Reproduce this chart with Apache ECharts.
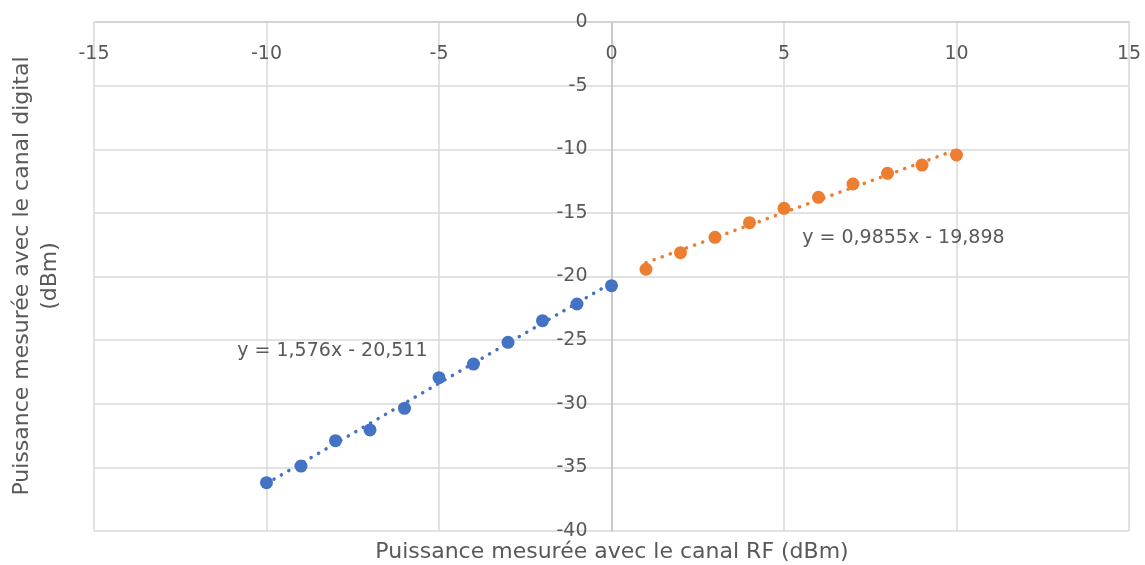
<!DOCTYPE html>
<html><head><meta charset="utf-8">
<script src="https://cdn.jsdelivr.net/npm/echarts@6/dist/echarts.min.js"></script>
<style>html,body{margin:0;padding:0;background:#fff}#c{width:1145px;height:565px}</style>
</head><body><div id="c"></div>
<script>
// ---- data ----
const blueX = [-10, -9, -8, -7, -6, -5, -4, -3, -2, -1, 0];
const blueY = [-36.2, -34.9, -32.9, -32.06, -30.36, -27.95, -26.88, -25.17, -23.47, -22.16, -20.72];
const orangeX = [1, 2, 3, 4, 5, 6, 7, 8, 9, 10];
const orangeY = [-19.43, -18.13, -16.92, -15.77, -14.64, -13.78, -12.73, -11.89, -11.24, -10.45];
const trendSlopes = [1.576, 0.9855];
const trendIntercepts = [-20.511, -19.898];
const trendLabels = ['y = 1,576x - 20,511', 'y = 0,9855x - 19,898'];
const xTitle = 'Puissance mesurée avec le canal RF (dBm)';
const yTitle = ['Puissance mesurée avec le canal digital', '(dBm)'];
// ---- layout ----
const trendLabelAt = [[-8.09, -25.85], [8.46, -16.97]];
const FONT = 'DejaVu Sans';
const TXT = '#595959';
const GRID = {left: 94, right: 16, top: 22, bottom: 34};
const W = 1145;

function zip(xs, ys) { return xs.map((x, i) => [x, ys[i]]); }
function trendEnds(xs, k) {
  const a = Math.min(...xs), b = Math.max(...xs);
  return [[a, trendSlopes[k] * a + trendIntercepts[k]], [b, trendSlopes[k] * b + trendIntercepts[k]]];
}
const colors = ['#4472C4', '#ED7D31'];
const chart = echarts.init(document.getElementById('c'), null, {renderer: 'canvas'});
const trendStyle = c => ({color: c, width: 3.5, type: [0.1, 8.5], cap: 'round'});
const plotW = W - GRID.left - GRID.right;
chart.setOption({
  animation: false,
  grid: GRID,
  xAxis: {
    type: 'value', min: -15, max: 15, interval: 5, position: 'top',
    axisLine: {onZero: false, lineStyle: {color: '#d0d0d0', width: 1.5}},
    axisTick: {show: false},
    axisLabel: {color: TXT, fontFamily: FONT, fontSize: 19, margin: 23, inside: true},
    splitLine: {lineStyle: {color: '#d9d9d9', width: 1.5}}
  },
  yAxis: {
    type: 'value', min: -40, max: 0, interval: 5, position: 'left', offset: -plotW / 2,
    axisLine: {show: true, onZero: false, lineStyle: {color: '#bfbfbf', width: 1.5}},
    axisTick: {show: false},
    axisLabel: {color: TXT, fontFamily: FONT, fontSize: 19, margin: 24},
    splitLine: {lineStyle: {color: '#d9d9d9', width: 1.5}}
  },
  series: [
    {type: 'line', data: trendEnds(blueX, 0), showSymbol: false, lineStyle: trendStyle(colors[0]), z: 2},
    {type: 'line', data: trendEnds(orangeX, 1), showSymbol: false, lineStyle: trendStyle(colors[1]), z: 2},
    {type: 'scatter', data: zip(blueX, blueY), symbolSize: 13, itemStyle: {color: colors[0], opacity: 1}, z: 3},
    {type: 'scatter', data: zip(orangeX, orangeY), symbolSize: 13, itemStyle: {color: colors[1], opacity: 1}, z: 3}
  ]
});
const g = [];
trendLabels.forEach((t, i) => {
  const p = chart.convertToPixel({gridIndex: 0}, trendLabelAt[i]);
  g.push({type: 'text', x: p[0], y: p[1], style: {text: t, fill: TXT, font: '19px "' + FONT + '"', textAlign: 'center', textVerticalAlign: 'middle'}});
});
g.push({type: 'text', x: 612, y: 552, style: {text: xTitle, fill: TXT, font: '22px "' + FONT + '"', textAlign: 'center', textVerticalAlign: 'middle'}});
g.push({type: 'text', x: 36, y: 276, rotation: Math.PI / 2, style: {text: yTitle.join('\n'), fill: TXT, font: '22px "' + FONT + '"', lineHeight: 28, textAlign: 'center', textVerticalAlign: 'middle'}});
chart.setOption({graphic: g});
</script></body></html>
